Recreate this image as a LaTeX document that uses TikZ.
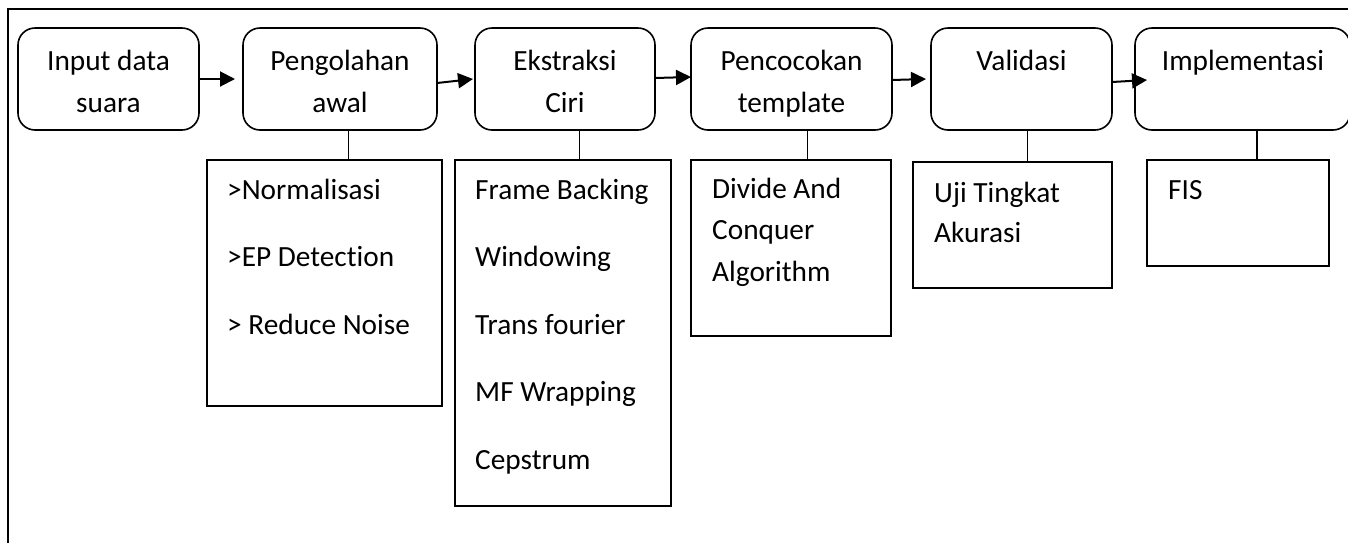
\documentclass[tikz,border=0pt]{standalone}
\usepackage{fontspec}
\setmainfont{Carlito}[Ligatures={NoCommon}]
\usetikzlibrary{arrows.meta}
\begin{document}
\begin{tikzpicture}[x=1pt,y=-1pt,
  stage/.style={draw, rounded corners=17pt, line width=1.6pt, inner sep=0pt, outer sep=0pt, anchor=north west},
  sub/.style={draw, line width=1.6pt, inner sep=0pt, outer sep=0pt, anchor=north west},
  ttext/.style={inner sep=0pt, anchor=base, align=center, font=\fontsize{29.3}{42}\selectfont},
  ltext/.style={inner sep=0pt, anchor=base west, align=left},
  arr/.style={line width=2pt, -{Triangle[length=15pt,width=15pt]}},
  link/.style={line width=1.6pt}]
\clip (0,0) rectangle (1348,542);
\fill[white] (0,0) rectangle (1348,542);
\draw[line width=1.6pt] (1360,9) -- (8,9) -- (8,560);
% stages
\node[stage, minimum width=181pt, minimum height=102pt] (b1) at (18,28) {};
\node[stage, minimum width=194pt, minimum height=102pt] (b2) at (243,28) {};
\node[stage, minimum width=180pt, minimum height=102pt] (b3) at (475,28) {};
\node[stage, minimum width=201pt, minimum height=102pt] (b4) at (691,28) {};
\node[stage, minimum width=181pt, minimum height=102pt] (b5) at (931,28) {};
\node[stage, minimum width=215pt, minimum height=102pt] (b6) at (1135,28) {};
% stage texts (base = last line baseline)
\node[ttext] (t1) at (108.5,112) {Input data\\suara};
\node[ttext] (t2) at (340,112) {Pengolahan\\awal};
\node[ttext] (t3) at (565,112) {Ekstraksi\\Ciri};
\node[ttext] (t4) at (791.5,112) {Pencocokan\\template};
\node[ttext] (t5) at (1021.5,70) {Validasi};
\node[ttext] (t6) at (1243,70) {Implementasi};
% sub boxes
\node[sub, minimum width=235pt, minimum height=246pt] (s1) at (207,160) {};
\node[sub, minimum width=216pt, minimum height=346pt] (s2) at (455,160) {};
\node[sub, minimum width=200pt, minimum height=176pt] (s3) at (691,160) {};
\node[sub, minimum width=199pt, minimum height=126pt] (s4) at (913,162) {};
\node[sub, minimum width=182pt, minimum height=106pt] (s5) at (1147,160) {};
% sub texts
\node[ltext, font=\fontsize{29.3}{67.5}\selectfont] (l1) at (227,334) {>Normalisasi\\>EP Detection\\> Reduce Noise};
\node[ltext, font=\fontsize{29.3}{67.5}\selectfont] (l2) at (475,469) {Frame Backing\\Windowing\\Trans fourier\\MF Wrapping\\Cepstrum};
\node[ltext, font=\fontsize{29.3}{41.5}\selectfont] (l3) at (712,281) {Divide And\\Conquer\\Algorithm};
\node[ltext, font=\fontsize{29.3}{40}\selectfont] (l4) at (934,242) {Uji Tingkat\\Akurasi};
\node[ltext, font=\fontsize{29.3}{40}\selectfont] (l5) at (1168,199) {FIS};
% arrows
\draw[arr] (b1.east) -- ([xshift=-8pt]b2.west);
\draw[arr] ([yshift=-4pt]b2.east) -- ([xshift=-2pt]b3.west);
\draw[arr] ([yshift=1pt]b3.east) -- ([yshift=2pt]b4.west);
\draw[arr] ([yshift=-1pt]b4.east) -- ([xshift=-5pt]b5.west);
\draw[arr] ([yshift=-3pt]b5.east) -- ([xshift=12pt,yshift=-1pt]b6.west);
% links
\draw[link] ([xshift=8.5pt]b2.south) -- ([xshift=8.5pt]b2.south |- s1.north);
\draw[link] ([xshift=14.5pt]b3.south) -- ([xshift=14.5pt]b3.south |- s2.north);
\draw[link] ([xshift=16pt]b4.south) -- ([xshift=16pt]b4.south |- s3.north);
\draw[link] ([xshift=6pt]b5.south) -- ([xshift=6pt]b5.south |- s4.north);
\draw[link] ([xshift=14.5pt]b6.south) -- ([xshift=14.5pt]b6.south |- s5.north);
\end{tikzpicture}
\end{document}
